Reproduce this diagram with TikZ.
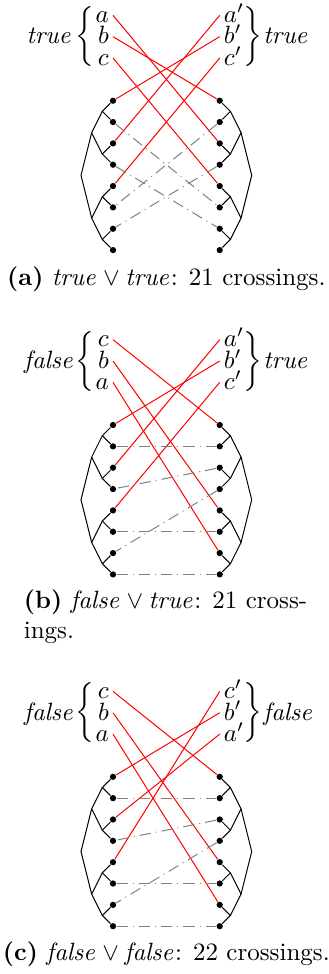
\documentclass[tikz,border=0pt]{standalone}
\usepackage{amsmath}
\usetikzlibrary{positioning}

% eight leaves on each side, each column closed by a binary tree
\newcommand{\leaves}[1]{%
  \foreach \i in {1,...,8} {
    \node[dot] (#1L\i) at (0,1-\i) {};
    \node[dot] (#1R\i) at (5,1-\i) {};
  }
  \foreach \k [evaluate=\k as \j using int(\k+1)] in {1,3,5,7} {
    \coordinate (#1l\k) at (-0.5,0.5-\k);
    \coordinate (#1r\k) at (5.5,0.5-\k);
    \draw (#1L\k) -- (#1l\k) -- (#1L\j);
    \draw (#1R\k) -- (#1r\k) -- (#1R\j);
  }
  \coordinate (#1lu) at (-1,-1.5);
  \coordinate (#1ld) at (-1,-5.5);
  \coordinate (#1lroot) at (-1.5,-3.5);
  \coordinate (#1ru) at (6,-1.5);
  \coordinate (#1rd) at (6,-5.5);
  \coordinate (#1rroot) at (6.5,-3.5);
  \draw (#1l1) -- (#1lu) -- (#1l3);
  \draw (#1l5) -- (#1ld) -- (#1l7);
  \draw (#1lu) -- (#1lroot) -- (#1ld);
  \draw (#1r1) -- (#1ru) -- (#1r3);
  \draw (#1r5) -- (#1rd) -- (#1r7);
  \draw (#1ru) -- (#1rroot) -- (#1rd);
}

\begin{document}
\begin{tikzpicture}[
    x=0.3cm, y=0.3cm,
    dot/.style={circle, fill, inner sep=0pt, minimum size=2.5pt},
    lbl/.style={inner sep=1.5pt, text height=5.8pt, text depth=0pt},
    brace/.style={inner sep=0pt},
    wire/.style={red},
    link/.style={gray, dash pattern=on 4.5pt off 2pt on 0.4pt off 2pt},
    captext/.style={inner sep=0pt}
]
\useasboundingbox (-5.295,4.719) rectangle (10.075,-40.92);

% (a) true / true
\leaves{a}
\node[lbl, anchor=east] (aLa) at (0,4) {$a$};
\node[lbl, anchor=east] (aLb) at (0,3) {$b$};
\node[lbl, anchor=east] (aLc) at (0,2) {$c$};
\node[brace] (aLbr) at (-1.31,3) {$\biggl\{$};
\node[lbl] (aLval) at (-2.98,3) {$\mathit{true}$};
\node[lbl, anchor=west] (aRa) at (5,4) {$a'$};
\node[lbl, anchor=west] (aRb) at (5,3) {$b'$};
\node[lbl, anchor=west] (aRc) at (5,2) {$c'$};
\node[brace] (aRbr) at (6.54,3) {$\biggr\}$};
\node[lbl, anchor=west] (aRval) at (6.85,3) {$\mathit{true}$};

\draw[wire] (aLa.east) -- (aR3);
\draw[wire] (aLb.east) -- (aR1);
\draw[wire] (aLc.east) -- (aR5);
\draw[wire] (aRa.west) -- (aL3);
\draw[wire] (aRb.west) -- (aL1);
\draw[wire] (aRc.west) -- (aL5);
\draw[link] (aL2) -- (aR6);
\draw[link] (aL4) -- (aR7);
\draw[link] (aR2) -- (aL6);
\draw[link] (aR4) -- (aL7);

% (b) false / true
\begin{scope}[shift={(0,-15.197)}]
\leaves{b}
\node[lbl, anchor=east] (bLc) at (0,4) {$c$};
\node[lbl, anchor=east] (bLb) at (0,3) {$b$};
\node[lbl, anchor=east] (bLa) at (0,2) {$a$};
\node[brace] (bLbr) at (-1.31,3) {$\biggl\{$};
\node[lbl] (bLval) at (-2.98,3) {$\mathit{false}$};
\node[lbl, anchor=west] (bRa) at (5,4) {$a'$};
\node[lbl, anchor=west] (bRb) at (5,3) {$b'$};
\node[lbl, anchor=west] (bRc) at (5,2) {$c'$};
\node[brace] (bRbr) at (6.54,3) {$\biggr\}$};
\node[lbl, anchor=west] (bRval) at (6.85,3) {$\mathit{true}$};

\draw[wire] (bLc.east) -- (bR1);
\draw[wire] (bLb.east) -- (bR5);
\draw[wire] (bLa.east) -- (bR7);
\draw[wire] (bRa.west) -- (bL3);
\draw[wire] (bRb.west) -- (bL1);
\draw[wire] (bRc.west) -- (bL5);
\draw[link] (bL2) -- (bR2);
\draw[link] (bR3) -- (bL4);
\draw[link] (bR4) -- (bL7);
\draw[link] (bL6) -- (bR6);
\draw[link] (bL8) -- (bR8);
\end{scope}

% (c) false / false
\begin{scope}[shift={(0,-31.68)}]
\leaves{c}
\node[lbl, anchor=east] (cLc) at (0,4) {$c$};
\node[lbl, anchor=east] (cLb) at (0,3) {$b$};
\node[lbl, anchor=east] (cLa) at (0,2) {$a$};
\node[brace] (cLbr) at (-1.31,3) {$\biggl\{$};
\node[lbl] (cLval) at (-2.98,3) {$\mathit{false}$};
\node[lbl, anchor=west] (cRc) at (5,4) {$c'$};
\node[lbl, anchor=west] (cRb) at (5,3) {$b'$};
\node[lbl, anchor=west] (cRa) at (5,2) {$a'$};
\node[brace] (cRbr) at (6.54,3) {$\biggr\}$};
\node[lbl, anchor=west] (cRval) at (6.85,3) {$\mathit{false}$};

\draw[wire] (cLc.east) -- (cR1);
\draw[wire] (cLb.east) -- (cR5);
\draw[wire] (cLa.east) -- (cR7);
\draw[wire] (cRa.west) -- (cL3);
\draw[wire] (cRb.west) -- (cL1);
\draw[wire] (cRc.west) -- (cL5);
\draw[link] (cL2) -- (cR2);
\draw[link] (cR3) -- (cL4);
\draw[link] (cR4) -- (cL7);
\draw[link] (cL6) -- (cR6);
\draw[link] (cL8) -- (cR8);
\end{scope}

% captions
\node[captext, anchor=base] (acap) at (2.5,-8.64)
  {\textbf{(a)} $\mathit{true}\vee\mathit{true}$: 21 crossings.};
\node[captext, anchor=base west, align=left] (bcap) at (-4.2,-25.18)
  {\textbf{(b)} $\mathit{false}\vee\mathit{true}$: 21 cross-\\ings.};
\node[captext, anchor=base] (ccap) at (2.5,-40.31)
  {\textbf{(c)} $\mathit{false}\vee\mathit{false}$: 22 crossings.};
\end{tikzpicture}
\end{document}
